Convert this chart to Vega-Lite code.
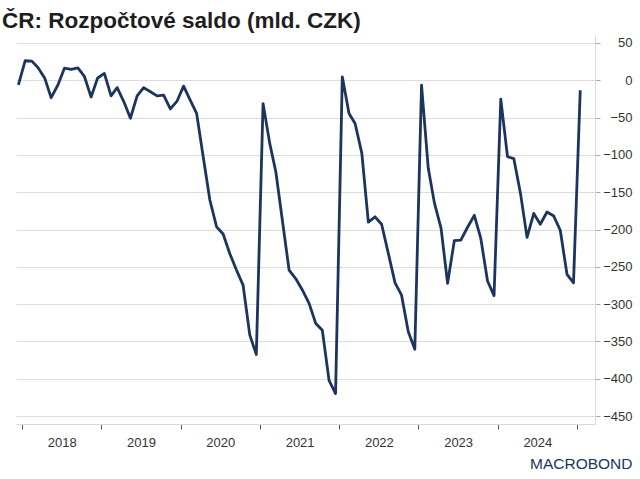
{
  "$schema": "https://vega.github.io/schema/vega-lite/v6.json",
  "width": 579,
  "height": 389,
  "autosize": {"type": "none"},
  "padding": {"left": 16, "top": 35, "right": 45, "bottom": 55},
  "background": "white",
  "title": {
    "text": "ČR: Rozpočtové saldo (mld. CZK)",
    "anchor": "start",
    "frame": "group",
    "dx": -14,
    "offset": 3,
    "font": "Liberation Sans",
    "fontSize": 22.5,
    "fontWeight": "bold",
    "color": "#1e1e1e"
  },
  "config": {
    "view": {"stroke": null},
    "font": "Liberation Sans"
  },
  "data": {
    "values": [
      {"date": "2017-12-15", "saldo": -6.2},
      {"date": "2018-01-15", "saldo": 26},
      {"date": "2018-02-15", "saldo": 25.5},
      {"date": "2018-03-15", "saldo": 17},
      {"date": "2018-04-15", "saldo": 3},
      {"date": "2018-05-15", "saldo": -23.5},
      {"date": "2018-06-15", "saldo": -6.5},
      {"date": "2018-07-15", "saldo": 16},
      {"date": "2018-08-15", "saldo": 14.5},
      {"date": "2018-09-15", "saldo": 16.5},
      {"date": "2018-10-15", "saldo": 5},
      {"date": "2018-11-15", "saldo": -22.5},
      {"date": "2018-12-15", "saldo": 2.9},
      {"date": "2019-01-15", "saldo": 9},
      {"date": "2019-02-15", "saldo": -21},
      {"date": "2019-03-15", "saldo": -10},
      {"date": "2019-04-15", "saldo": -29},
      {"date": "2019-05-15", "saldo": -51},
      {"date": "2019-06-15", "saldo": -21},
      {"date": "2019-07-15", "saldo": -10},
      {"date": "2019-08-15", "saldo": -15.5},
      {"date": "2019-09-15", "saldo": -21},
      {"date": "2019-10-15", "saldo": -20},
      {"date": "2019-11-15", "saldo": -38.5},
      {"date": "2019-12-15", "saldo": -28.5},
      {"date": "2020-01-15", "saldo": -8},
      {"date": "2020-02-15", "saldo": -27},
      {"date": "2020-03-15", "saldo": -44.5},
      {"date": "2020-04-15", "saldo": -104},
      {"date": "2020-05-15", "saldo": -160.5},
      {"date": "2020-06-15", "saldo": -196.5},
      {"date": "2020-07-15", "saldo": -206},
      {"date": "2020-08-15", "saldo": -232.5},
      {"date": "2020-09-15", "saldo": -254.5},
      {"date": "2020-10-15", "saldo": -274.5},
      {"date": "2020-11-15", "saldo": -341.5},
      {"date": "2020-12-15", "saldo": -367.4},
      {"date": "2021-01-15", "saldo": -31.3},
      {"date": "2021-02-15", "saldo": -85},
      {"date": "2021-03-15", "saldo": -123},
      {"date": "2021-04-15", "saldo": -190},
      {"date": "2021-05-15", "saldo": -254.5},
      {"date": "2021-06-15", "saldo": -266},
      {"date": "2021-07-15", "saldo": -281},
      {"date": "2021-08-15", "saldo": -299},
      {"date": "2021-09-15", "saldo": -326},
      {"date": "2021-10-15", "saldo": -335},
      {"date": "2021-11-15", "saldo": -402},
      {"date": "2021-12-15", "saldo": -419.7},
      {"date": "2022-01-15", "saldo": 4.5},
      {"date": "2022-02-15", "saldo": -44.6},
      {"date": "2022-03-15", "saldo": -58},
      {"date": "2022-04-15", "saldo": -98},
      {"date": "2022-05-15", "saldo": -190},
      {"date": "2022-06-15", "saldo": -183},
      {"date": "2022-07-15", "saldo": -193},
      {"date": "2022-08-15", "saldo": -232},
      {"date": "2022-09-15", "saldo": -271.5},
      {"date": "2022-10-15", "saldo": -288},
      {"date": "2022-11-15", "saldo": -337},
      {"date": "2022-12-15", "saldo": -360.4},
      {"date": "2023-01-15", "saldo": -6.7},
      {"date": "2023-02-15", "saldo": -118},
      {"date": "2023-03-15", "saldo": -164},
      {"date": "2023-04-15", "saldo": -198.6},
      {"date": "2023-05-15", "saldo": -272},
      {"date": "2023-06-15", "saldo": -215},
      {"date": "2023-07-15", "saldo": -214.3},
      {"date": "2023-08-15", "saldo": -197},
      {"date": "2023-09-15", "saldo": -181},
      {"date": "2023-10-15", "saldo": -212},
      {"date": "2023-11-15", "saldo": -269},
      {"date": "2023-12-15", "saldo": -288.5},
      {"date": "2024-01-15", "saldo": -25.5},
      {"date": "2024-02-15", "saldo": -102.5},
      {"date": "2024-03-15", "saldo": -105},
      {"date": "2024-04-15", "saldo": -152},
      {"date": "2024-05-15", "saldo": -210.5},
      {"date": "2024-06-15", "saldo": -178.5},
      {"date": "2024-07-15", "saldo": -193},
      {"date": "2024-08-15", "saldo": -176.5},
      {"date": "2024-09-15", "saldo": -182},
      {"date": "2024-10-15", "saldo": -201},
      {"date": "2024-11-15", "saldo": -260},
      {"date": "2024-12-15", "saldo": -271.4},
      {"date": "2025-01-15", "saldo": -13.4}
    ]
  },
  "mark": {"type": "line", "color": "#1c355e", "strokeWidth": 2.8, "strokeJoin": "round", "clip": true},
  "encoding": {
    "x": {
      "field": "date",
      "type": "temporal",
      "scale": {"domain": ["2017-12-04", "2025-03-24"]},
      "axis": {
        "values": ["2018-01-01", "2019-01-01", "2020-01-01", "2021-01-01", "2022-01-01", "2023-01-01", "2024-01-01", "2025-01-01"],
        "labelExpr": "year(datum.value) < 2025 ? timeFormat(datum.value, '%Y') : ''",
        "labelAlign": "center",
        "labelOffset": 39.6,
        "labelPadding": 7,
        "labelFontSize": 13,
        "labelColor": "#333333",
        "labelFont": "Liberation Sans",
        "grid": false,
        "domainColor": "#d9d9d9",
        "tickColor": "#555555",
        "tickSize": 5,
        "title": "MACROBOND",
        "titleAnchor": "end",
        "titleAlign": "right",
        "titleX": 616,
        "titleY": 44,
        "titleBaseline": "alphabetic",
        "titleFont": "Liberation Sans",
        "titleFontSize": 15.5,
        "titleFontWeight": "normal",
        "titleColor": "#1c355e"
      }
    },
    "y": {
      "field": "saldo",
      "type": "quantitative",
      "scale": {"domain": [-460.5, 60.5], "nice": false, "zero": false},
      "axis": {
        "orient": "right",
        "values": [-450, -400, -350, -300, -250, -200, -150, -100, -50, 0, 50],
        "grid": true,
        "gridColor": "#dcdcdc",
        "gridWidth": 1,
        "domainColor": "#d9d9d9",
        "tickColor": "#aaaaaa",
        "tickSize": 5,
        "labelAlign": "right",
        "labelPadding": 32,
        "labelFontSize": 13,
        "labelColor": "#333333",
        "labelFont": "Liberation Sans",
        "title": null
      }
    }
  }
}
